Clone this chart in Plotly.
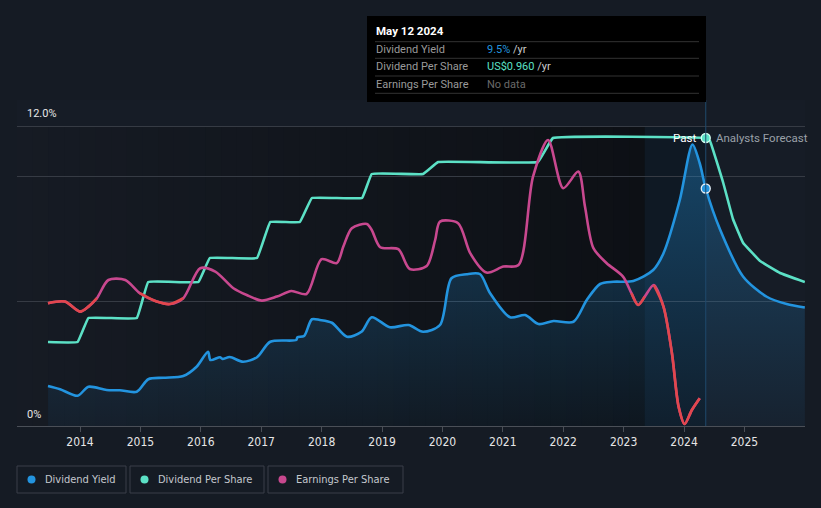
import plotly.graph_objects as go

# ---------------- data ----------------
yield_years = [2013.47, 2013.67, 2013.96, 2014.14, 2014.44, 2014.66, 2014.94, 2015.13, 2015.38, 2015.71,
               2015.93, 2016.12, 2016.16, 2016.32, 2016.36, 2016.48, 2016.70, 2016.93, 2017.15, 2017.58,
               2017.60, 2017.71, 2017.84, 2017.97, 2018.17, 2018.42, 2018.66, 2018.83, 2019.13, 2019.44,
               2019.68, 2019.96, 2020.15, 2020.40, 2020.62, 2020.79, 2021.12, 2021.37, 2021.59, 2021.84,
               2022.17, 2022.39, 2022.61, 2022.83, 2023.16, 2023.49, 2023.66, 2023.93, 2024.14, 2024.26,
               2024.36, 2024.60, 2024.98, 2025.37, 2025.70, 2026.00]
yield_vals = [1.60, 1.47, 1.21, 1.57, 1.44, 1.43, 1.37, 1.87, 1.93, 2.00,
              2.37, 2.97, 2.64, 2.75, 2.68, 2.76, 2.57, 2.75, 3.37, 3.44,
              3.55, 3.60, 4.27, 4.24, 4.13, 3.57, 3.77, 4.35, 3.95, 4.04,
              3.77, 4.04, 5.91, 6.07, 6.08, 5.31, 4.35, 4.44, 4.08, 4.20,
              4.17, 5.04, 5.68, 5.77, 5.80, 6.24, 6.91, 9.04, 11.26, 10.51,
              9.50, 7.84, 5.97, 5.17, 4.88, 4.74]

dps_years = [2013.47, 2013.96, 2014.14, 2014.94, 2015.13, 2015.96, 2016.15, 2016.93, 2017.15, 2017.64,
             2017.84, 2018.67, 2018.83, 2019.68, 2019.93, 2021.58, 2021.83, 2024.36, 2024.43, 2024.65,
             2024.81, 2024.98, 2025.26, 2025.59, 2026.00]
dps_vals = [0.28, 0.28, 0.36, 0.36, 0.48, 0.48, 0.56, 0.56, 0.68, 0.68,
            0.76, 0.76, 0.84, 0.84, 0.88, 0.88, 0.96, 0.96, 0.95, 0.81,
            0.69, 0.61, 0.55, 0.51, 0.48]

eps_years = [2013.47, 2013.75, 2014.00, 2014.14, 2014.28, 2014.47, 2014.75, 2014.99, 2015.27, 2015.49,
             2015.71, 2015.99, 2016.24, 2016.54, 2016.76, 2017.01, 2017.26, 2017.50, 2017.75, 2018.00,
             2018.25, 2018.36, 2018.50, 2018.75, 2018.83, 2018.97, 2019.27, 2019.46, 2019.74, 2019.88,
             2019.96, 2020.26, 2020.46, 2020.73, 2021.01, 2021.26, 2021.50, 2021.75, 2022.00, 2022.25,
             2022.36, 2022.50, 2022.72, 2022.99, 2023.13, 2023.24, 2023.35, 2023.50, 2023.66, 2023.80,
             2023.91, 2024.01, 2024.13, 2024.26]
eps_vals = [0.614, 0.622, 0.572, 0.597, 0.639, 0.730, 0.730, 0.664, 0.622, 0.610,
            0.639, 0.789, 0.772, 0.689, 0.655, 0.627, 0.647, 0.675, 0.660, 0.834,
            0.814, 0.897, 0.989, 1.010, 0.980, 0.894, 0.884, 0.785, 0.800, 0.930,
            1.022, 1.014, 0.864, 0.767, 0.797, 0.805, 1.247, 1.430, 1.189, 1.272,
            1.097, 0.889, 0.814, 0.747, 0.664, 0.605, 0.647, 0.705, 0.597, 0.364,
            0.097, 0.010, 0.080, 0.139]
eps_low_threshold = 0.625

tick_years = [2014, 2015, 2016, 2017, 2018, 2019, 2020, 2021, 2022, 2023, 2024, 2025]
hover_year = 2024.36
hover_date = "May 12 2024"
hover_yield = 9.5
hover_dps = 0.960
past_start = 2023.35

# ---------------- layout geometry ----------------
W, H = 821, 508
ML, MR, MT, MB = 17, 16, 100, 82
PW = W - ML - MR
PH = H - MT - MB
X0, X1 = 2012.957, 2026.003
Y_TOP = 12 * PH / 300.0
DPS_TOP = 1.0 * PH / 300.0
EPS_TOP = 1.5 * PH / 300.0


def pxx(p):
    return (p - ML) / PW


def pxy(p):
    return (H - MB - p) / PH


BLUE = "#2394df"
TEAL = "#5ce1c6"
PINK = "#c8488f"
RED = "#e2474d"
FONT = "Roboto, 'Open Sans', sans-serif"
TICKFONT = "'DejaVu Sans Condensed', Roboto, sans-serif"

fig = go.Figure()

# dividend yield area + line
fig.add_trace(go.Scatter(
    x=yield_years, y=yield_vals, mode="lines", line=dict(color=BLUE, width=2.6, shape="spline", smoothing=0.8),
    fill="tozeroy",
    fillgradient=dict(type="vertical", start=0, stop=12,
                      colorscale=[[0, "rgba(35,148,223,0.05)"], [1, "rgba(35,148,223,0.38)"]]),
    hoverinfo="skip", yaxis="y"))

# earnings per share (pink, red where low)
fig.add_trace(go.Scatter(
    x=eps_years, y=eps_vals, mode="lines", line=dict(color=PINK, width=2.6, shape="spline", smoothing=0.8),
    hoverinfo="skip", yaxis="y3"))

low = [v < eps_low_threshold for v in eps_vals]
runs = []
i = 0
while i < len(low):
    if low[i]:
        j = i
        while j + 1 < len(low) and low[j + 1]:
            j += 1
        runs.append((max(0, i - 1), min(len(low) - 1, j + 1)))
        i = j + 1
    else:
        i += 1
for a, b in runs:
    fig.add_trace(go.Scatter(
        x=eps_years[a:b + 1], y=eps_vals[a:b + 1], mode="lines",
        line=dict(color=RED, width=2.6, shape="spline", smoothing=0.8),
        hoverinfo="skip", yaxis="y3"))

# dividend per share
fig.add_trace(go.Scatter(
    x=dps_years, y=dps_vals, mode="lines", line=dict(color=TEAL, width=2.6, shape="spline", smoothing=0.2),
    hoverinfo="skip", yaxis="y2"))

# hover markers
fig.add_trace(go.Scatter(x=[hover_year], y=[hover_yield], mode="markers",
                         marker=dict(size=9, color=BLUE, line=dict(color="#e8f0f8", width=1.3)),
                         hoverinfo="skip", yaxis="y"))
fig.add_trace(go.Scatter(x=[hover_year], y=[hover_dps], mode="markers",
                         marker=dict(size=9, color=TEAL, line=dict(color="#d8fff4", width=1.3)),
                         hoverinfo="skip", yaxis="y2"))

shapes = []
# darkening gradient over the past region
n = 40
c0 = (22, 27, 36)
c1 = (13, 16, 21)
xs = past_start
for k in range(n):
    t0 = k / n
    t1 = (k + 1) / n
    xa = X0 + (xs - X0) * t0
    xb = X0 + (xs - X0) * t1
    tm = (t0 + t1) / 2
    col = tuple(round(c0[m] + (c1[m] - c0[m]) * tm) for m in range(3))
    shapes.append(dict(type="rect", xref="x", yref="y", x0=xa, x1=xb + 0.01, y0=0, y1=12,
                       fillcolor="rgb(%d,%d,%d)" % col, line=dict(width=0), layer="below"))
# past-year highlight
shapes.append(dict(type="rect", xref="x", yref="y", x0=past_start, x1=hover_year, y0=0, y1=12,
                   fillcolor="rgb(15,25,36)", line=dict(width=0), layer="below"))
# hover vertical line
shapes.append(dict(type="line", xref="x", yref="paper", x0=hover_year, x1=hover_year, y0=0, y1=1,
                   line=dict(color="#1f4a6c", width=1), layer="above"))

# tooltip box
shapes.append(dict(type="rect", xref="paper", yref="paper", x0=pxx(367), x1=pxx(706), y0=pxy(102), y1=pxy(16),
                   fillcolor="#000000", line=dict(width=0), layer="above"))
for yy in [41.7, 58.3, 76, 93.3]:
    shapes.append(dict(type="line", xref="paper", yref="paper", x0=pxx(375), x1=pxx(699), y0=pxy(yy), y1=pxy(yy),
                       line=dict(color="#333333", width=1), layer="above"))

# legend boxes
legend_items = [("Dividend Yield", BLUE, 17, 126), ("Dividend Per Share", TEAL, 130, 264),
                ("Earnings Per Share", PINK, 268, 403)]
annotations = []
for name, col, bx0, bx1 in legend_items:
    shapes.append(dict(type="rect", xref="paper", yref="paper", x0=pxx(bx0), x1=pxx(bx1), y0=pxy(493), y1=pxy(466),
                       fillcolor="rgba(0,0,0,0)", line=dict(color="#3a3f48", width=1), layer="above"))
    cx = bx0 + 14.5
    shapes.append(dict(type="circle", xref="paper", yref="paper", x0=pxx(cx - 4), x1=pxx(cx + 4),
                       y0=pxy(483.5), y1=pxy(475.5), fillcolor=col, line=dict(width=0), layer="above"))
    annotations.append(dict(text=name, xref="paper", yref="paper", x=pxx(bx0 + 26), y=pxy(479.5),
                            xanchor="left", yanchor="middle", showarrow=False,
                            font=dict(family=TICKFONT, size=11, color="#c4c8ce")))

# axis value labels
annotations.append(dict(text="12.0%", xref="paper", yref="paper", x=pxx(25), y=pxy(114), xanchor="left",
                        yanchor="middle", showarrow=False, font=dict(family=FONT, size=11, color="#e6e6e6")))
annotations.append(dict(text="0%", xref="paper", yref="paper", x=pxx(25), y=pxy(414), xanchor="left",
                        yanchor="middle", showarrow=False, font=dict(family=FONT, size=11, color="#e6e6e6")))

# past / forecast labels
annotations.append(dict(text="Past", xref="paper", yref="paper", x=pxx(698), y=pxy(137.5), xanchor="right",
                        yanchor="middle", showarrow=False, font=dict(family=FONT, size=11.5, color="#ffffff")))
annotations.append(dict(text="Analysts Forecast", xref="paper", yref="paper", x=pxx(714), y=pxy(137.5),
                        xanchor="left", yanchor="middle", showarrow=False,
                        font=dict(family=FONT, size=11.5, color="#9aa0a8")))

# tooltip text
annotations.append(dict(text="<b>%s</b>" % hover_date, xref="paper", yref="paper", x=pxx(374), y=pxy(31),
                        xanchor="left", yanchor="middle", showarrow=False,
                        font=dict(family=FONT, size=11.5, color="#ffffff")))
rows = [("Dividend Yield", "<span style='color:%s'>%.1f%%</span> /yr" % (BLUE, hover_yield), 49.5),
        ("Dividend Per Share", "<span style='color:%s'>US$%.3f</span> /yr" % (TEAL, hover_dps), 66.5),
        ("Earnings Per Share", "<span style='color:#6a6a6a'>No data</span>", 84.5)]
for lab, val, yy in rows:
    annotations.append(dict(text=lab, xref="paper", yref="paper", x=pxx(374), y=pxy(yy), xanchor="left",
                            yanchor="middle", showarrow=False, font=dict(family=FONT, size=11, color="#9a9a9a")))
    annotations.append(dict(text=val, xref="paper", yref="paper", x=pxx(485), y=pxy(yy), xanchor="left",
                            yanchor="middle", showarrow=False, font=dict(family=FONT, size=11, color="#cccccc")))

fig.update_layout(
    width=W, height=H,
    margin=dict(l=ML, r=MR, t=MT, b=MB),
    paper_bgcolor="#151b24", plot_bgcolor="#161c26",
    showlegend=False,
    xaxis=dict(range=[X0, X1], tickvals=tick_years, ticktext=[str(t) for t in tick_years],
               showgrid=False, zeroline=False, showline=True, linecolor="#4a4f57", linewidth=1,
               ticks="outside", ticklen=5, tickcolor="#4a4f57",
               tickfont=dict(family=TICKFONT, size=12, color="#e6e6e6"),
               fixedrange=True),
    yaxis=dict(range=[0, Y_TOP], tickvals=[5, 10, 12], showticklabels=False, showgrid=True,
               gridcolor="#363b44", gridwidth=1, zeroline=False, showline=False, fixedrange=True),
    yaxis2=dict(range=[0, DPS_TOP], overlaying="y", visible=False, fixedrange=True),
    yaxis3=dict(range=[0, EPS_TOP], overlaying="y", visible=False, fixedrange=True),
    shapes=shapes, annotations=annotations,
)

fig.write_html(
    "out.html",
    config={"displayModeBar": False},
    post_script="document.body.style.margin='0';document.body.style.background='#151b24';",
)
